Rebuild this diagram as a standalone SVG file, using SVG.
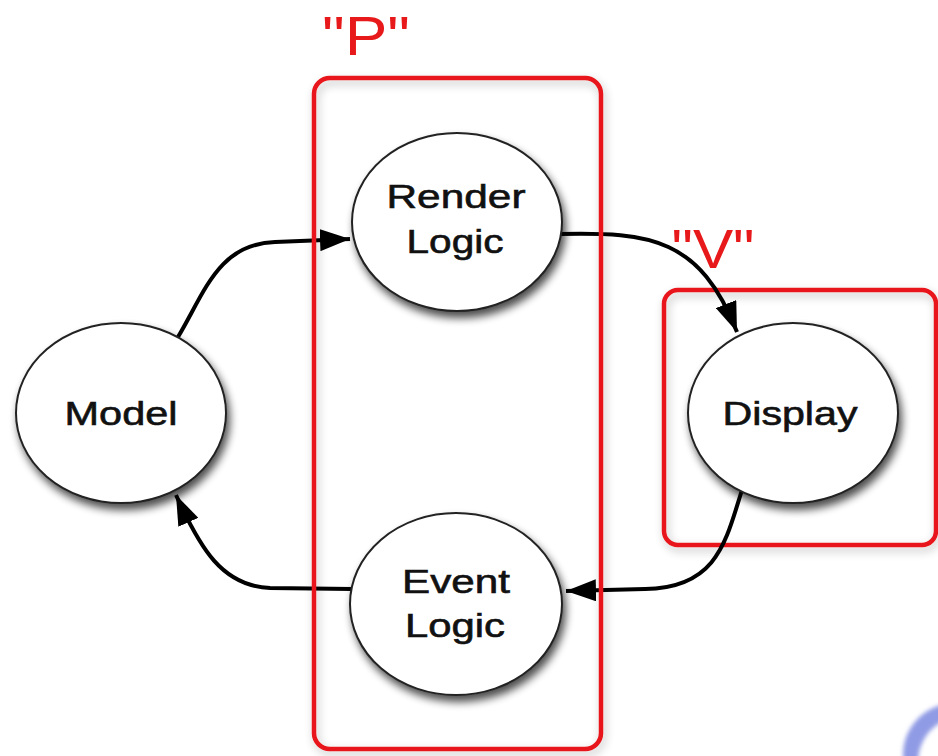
<svg xmlns="http://www.w3.org/2000/svg" width="938" height="756" viewBox="0 0 938 756">
<defs>
<style>
.node{fill:#fff;stroke:#222;stroke-width:2;filter:url(#sh)}
.lbl{font-family:"Liberation Sans","Helvetica",Arial,sans-serif;font-size:33px;fill:#111;stroke:#111;stroke-width:0.6;text-anchor:middle}
.tag{font-family:"Liberation Sans","Helvetica",Arial,sans-serif;font-size:56px;fill:#e8191a;text-anchor:middle}
.box{fill:none;stroke:#e8191a;stroke-width:4.5;filter:url(#bsh)}
.edge{fill:none;stroke:#000;stroke-width:4;marker-end:url(#arr)}
</style>
<filter id="sh" x="-20%" y="-20%" width="140%" height="150%">
<feGaussianBlur in="SourceAlpha" stdDeviation="4"/>
<feOffset dx="3" dy="6" result="b"/>
<feComponentTransfer><feFuncA type="linear" slope="0.7"/></feComponentTransfer>
<feMerge><feMergeNode/><feMergeNode in="SourceGraphic"/></feMerge>
</filter>
<filter id="bsh" x="-10%" y="-10%" width="120%" height="120%">
<feGaussianBlur in="SourceAlpha" stdDeviation="5"/>
<feOffset dx="2" dy="4"/>
<feComponentTransfer><feFuncA type="linear" slope="0.25"/></feComponentTransfer>
<feMerge><feMergeNode/><feMergeNode in="SourceGraphic"/></feMerge>
</filter>
<filter id="blur"><feGaussianBlur stdDeviation="2"/></filter>
<marker id="arr" markerUnits="userSpaceOnUse" markerWidth="32" markerHeight="22" refX="30" refY="11" orient="auto">
<path d="M0,0 L30,11 L0,22 Z" fill="#000"/>
</marker>
</defs>
<rect width="938" height="756" fill="#fff"/>

<g id="v-group">
<rect class="box" x="664" y="290" width="272" height="255" rx="14"/>
<text class="tag" x="713" y="268" textLength="83" lengthAdjust="spacingAndGlyphs">"V"</text>
</g>

<g id="connectors">
<path class="edge" d="M178,337 C205,292 218,244 275,242 L350,239"/>
<path class="edge" d="M560,234 C650,232 700,238 737,332"/>
<path class="edge" d="M742,490 C726,540 718,588 645,589 L566,591"/>
<path class="edge" d="M352,589 L270,588 C222,586 200,548 176,495"/>
</g>

<g id="p-group">
<rect class="box" x="314" y="78" width="287" height="671" rx="16"/>
<text class="tag" x="366" y="55" textLength="88" lengthAdjust="spacingAndGlyphs">"P"</text>
</g>

<g id="model">
<ellipse class="node" cx="121" cy="413" rx="105" ry="90"/>
<text class="lbl" x="121" y="425" textLength="113" lengthAdjust="spacingAndGlyphs">Model</text>
</g>
<g id="render-logic">
<ellipse class="node" cx="457" cy="222" rx="105" ry="89"/>
<text class="lbl" x="456" y="208" textLength="139" lengthAdjust="spacingAndGlyphs">Render</text>
<text class="lbl" x="455" y="253" textLength="97" lengthAdjust="spacingAndGlyphs">Logic</text>
</g>
<g id="display">
<ellipse class="node" cx="793" cy="413" rx="105" ry="90"/>
<text class="lbl" x="790" y="425" textLength="135" lengthAdjust="spacingAndGlyphs">Display</text>
</g>
<g id="event-logic">
<ellipse class="node" cx="456" cy="604" rx="106" ry="91"/>
<text class="lbl" x="456" y="593" textLength="108" lengthAdjust="spacingAndGlyphs">Event</text>
<text class="lbl" x="455" y="637" textLength="100" lengthAdjust="spacingAndGlyphs">Logic</text>
</g>

<path d="M955,703 A52,52 0 1 0 955,807 A52,52 0 1 0 955,703 Z M964,716 A46,46 0 1 0 964,808 A46,46 0 1 0 964,716 Z" fill="#7d8ae0" fill-opacity="0.85" fill-rule="evenodd" filter="url(#blur)"/>
</svg>
